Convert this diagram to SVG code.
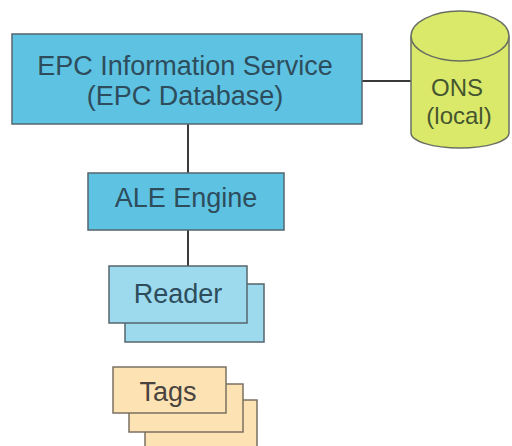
<svg xmlns="http://www.w3.org/2000/svg" width="512" height="446" viewBox="0 0 512 446">
  <style>
    .lbl { font-family: "Liberation Sans", Arial, sans-serif; font-size: 27px; text-anchor: middle; fill: #2e4d5c; }
    .ons { font-size: 24px; fill: #455530; }
    .tag { fill: #4a4440; }
    .box { stroke: #55666e; stroke-width: 1.5; }
    .blue { fill: #5ec2e2; }
    .light { fill: #9ddaee; }
    .cyl { fill: #dbe96a; stroke: #6a7060; stroke-width: 1.5; }
    .tagbox { fill: #fde3b4; stroke: #7a7060; stroke-width: 1.5; }
    .wire { stroke: #3a3a3a; stroke-width: 2; fill: none; }
  </style>
  <rect width="512" height="446" fill="#ffffff"/>

  <g id="connectors">
    <line class="wire" x1="188" y1="124" x2="188" y2="173"/>
    <line class="wire" x1="188" y1="230" x2="188" y2="266"/>
    <line class="wire" x1="362" y1="81" x2="411" y2="81"/>
  </g>

  <g id="epcis">
    <rect class="box blue" x="12" y="34" width="350" height="90"/>
    <text class="lbl" x="185" y="75">EPC Information Service</text>
    <text class="lbl" x="185" y="105">(EPC Database)</text>
  </g>

  <g id="ons">
    <path class="cyl" d="M411 36 L411 133 A49 15 0 0 0 509 133 L509 36 A49 25 0 0 0 411 36 Z"/>
    <path class="cyl" d="M411 36 A49 25 0 0 0 509 36" fill="none"/>
    <text class="lbl ons" x="457" y="96">ONS</text>
    <text class="lbl ons" x="459" y="124">(local)</text>
  </g>

  <g id="ale">
    <rect class="box blue" x="88" y="173" width="196" height="57"/>
    <text class="lbl" x="186" y="207">ALE Engine</text>
  </g>

  <g id="reader">
    <rect class="box light" x="125" y="284" width="139" height="58"/>
    <rect class="box light" x="109" y="266" width="138" height="57"/>
    <text class="lbl" x="178" y="303">Reader</text>
  </g>

  <g id="tags">
    <rect class="tagbox" x="145" y="400" width="112" height="52"/>
    <rect class="tagbox" x="129" y="384" width="114" height="48"/>
    <rect class="tagbox" x="113" y="367" width="113" height="46"/>
    <text class="lbl tag" x="168" y="401">Tags</text>
  </g>
</svg>
